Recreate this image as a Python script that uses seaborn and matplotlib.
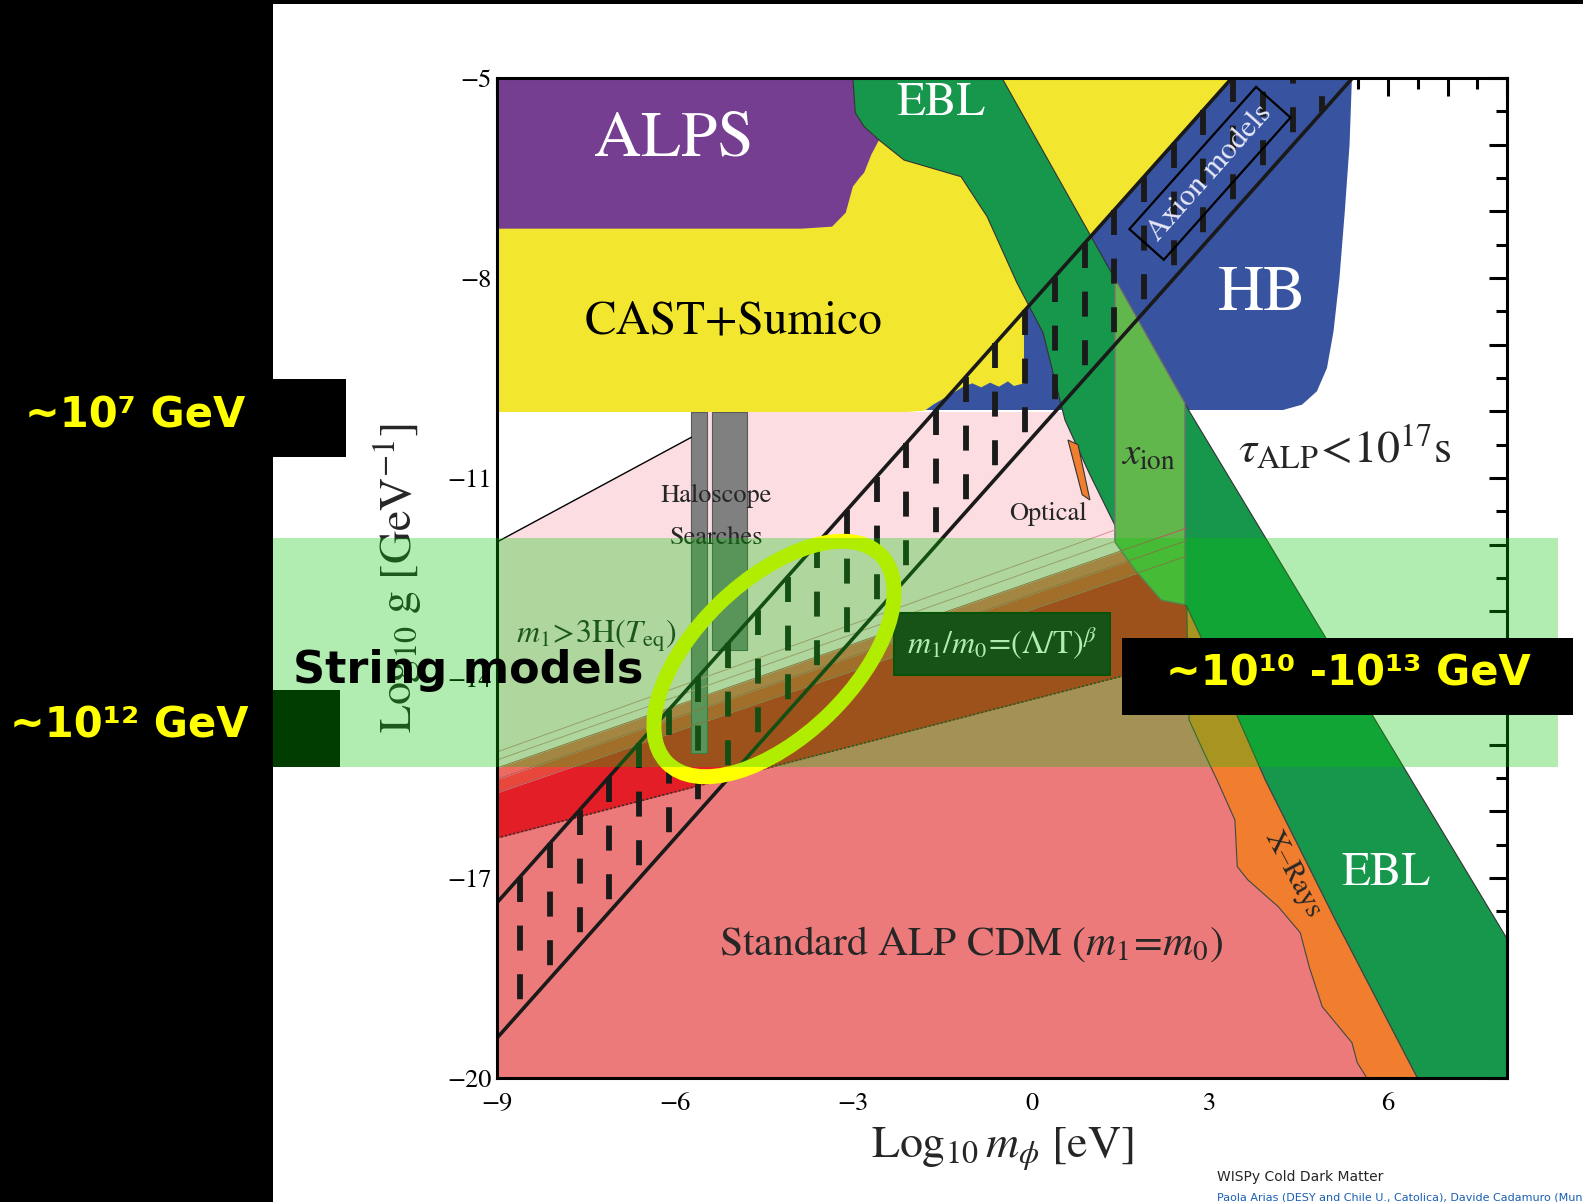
import numpy as np
import matplotlib
matplotlib.use("Agg")
import matplotlib.pyplot as plt
import seaborn as sns
from matplotlib.patches import Rectangle, Ellipse
from matplotlib.transforms import IdentityTransform
from matplotlib.ticker import MultipleLocator, FuncFormatter

sns.set_style('white')
plt.rcParams['font.family'] = ['STIXGeneral', 'DejaVu Serif']
plt.rcParams['mathtext.fontset'] = 'stix'
plt.rcParams['lines.scale_dashes'] = False

# ---- excluded / allowed regions, x = log10 m [eV], y = log10 g [GeV^-1]
alps_x = [-9, -3.01, -2.97, -2.82, -2.57, -2.70, -2.82, -2.90, -3.01, -3.13, -3.36, -3.88, -9]
alps_y = [-5, -5, -5.52, -5.73, -5.93, -6.15, -6.42, -6.50, -6.63, -7.02, -7.23, -7.26, -7.26]

cast_x = [-9, 3.37, -0.13, -0.13, -0.30, -0.40, -0.55, -0.70, -0.85, -1.00, -1.15, -1.37, -1.66, -1.80, -2.10, -9]
cast_y = [-5, -5, -8.50, -9.58, -9.62, -9.55, -9.63, -9.57, -9.64, -9.58, -9.63, -9.75, -9.90, -9.99, -10.01, -10.01]

hb_x = [-1.85, 4.23, 4.55, 4.80, 4.97, 5.08, 5.18, 5.27, 5.35, 5.39, -1.85]
hb_y = [-9.98, -9.98, -9.90, -9.70, -9.35, -8.80, -8.00, -7.00, -6.00, -5.00, -5.00]

ebl_x = [-3.01, -2.97, -2.82, -2.57, -2.15, -1.19, -0.75, -0.25, 0.19, 0.56, 0.98, 1.44, 1.99, 2.61,
         3.34, 3.93, 5.11, 6.49, 8.0, 8.0, 2.66, -0.50]
ebl_y = [-5.0, -5.52, -5.73, -5.93, -6.23, -6.48, -7.08, -8.07, -8.82, -10.13, -10.95, -11.78, -12.30, -12.93,
         -14.33, -15.53, -17.63, -20.0, -20.0, -17.91, -10.01, -5.0]

xion_x = [1.40, 2.58, 2.58, 2.18, 1.74, 1.40]
xion_y = [-8.01, -9.88, -12.90, -12.83, -12.38, -11.96]

xray_x = [2.61, 2.65, 2.90, 3.12, 3.42, 3.46, 3.64, 4.15, 4.52, 4.67, 4.89, 5.39, 5.48, 5.64,
          6.49, 5.11, 3.93, 3.34]
xray_y = [-12.93, -14.63, -15.12, -15.53, -16.13, -16.83, -17.03, -17.43, -17.82, -18.33, -18.93, -19.47, -19.77, -20.0,
          -20.0, -17.63, -15.53, -14.33]

optical_x = [0.61, 0.78, 0.98, 0.85]
optical_y = [-10.43, -10.50, -11.33, -11.25]

# straight boundaries, value at x = -9 and at x = 2.61
line_ends_x = [-9, 2.61]
alp_cdm_top = [-16.40, -13.72]     # standard ALP CDM upper edge (dotted)
beta_mid = [-15.72, -12.17]
beta_mid2 = [-15.52, -11.94]
beta_top = [-15.35, -11.75]
fan_ends_x = [-9, 1.40]
fan_lines = [[-15.23, -11.95], [-15.11, -11.78]]
teq_line_x = [-9, -5.73]
teq_line_y = [-11.96, -10.39]

# haloscope bars: x-left, x-right, bottom, top
halo_bars = [(-5.73, -5.46, -15.12, -10.01), (-5.38, -4.79, -13.58, -10.01)]

# axion band: y = x + offset
axion_offsets = [-8.37, -10.40]
axion_dash_x = np.arange(-8.61, 5.45, 0.5)  # dashed hatching inside the band

# colours
c_alps, c_cast, c_ebl, c_hb = '#763e91', '#f2e62e', '#16974b', '#3854a0'
c_xion, c_pink, c_salmon, c_red = '#62b74c', '#fbdde2', '#ec7a7a', '#e41e26'
c_orange = '#f07e2e'

W, H = 1583, 1202
fig = plt.figure(figsize=(W / 100, H / 100), dpi=100)
fig.patch.set_facecolor('white')
ax = fig.add_axes([497 / W, 1 - 1078 / H, 1010 / W, 1000 / H])
ax.set_xlim(-9, 8)
ax.set_ylim(-20, -5)

# salmon: standard ALP CDM
ax.fill([-9, 5.64] + xray_x[:14][::-1] + [2.61, -9],
        [-20, -20] + xray_y[:14][::-1] + [alp_cdm_top[1], alp_cdm_top[0]],
        color=c_salmon, lw=0)

# pink region above the beta fan
ax.fill([-9, teq_line_x[1], teq_line_x[1], 2.6, 2.6, -9],
        [teq_line_y[0], teq_line_y[1], -10.01, -10.01, beta_top[1], beta_top[0]],
        color=c_pink, lw=0)
ax.plot(teq_line_x, teq_line_y, color='black', lw=1.0)

# beta fan bands
ax.fill_between(line_ends_x, alp_cdm_top, beta_mid, color=c_red, lw=0)
ax.fill_between(line_ends_x, beta_mid, beta_mid2, color='#e8483c', lw=0)
ax.fill_between(line_ends_x, beta_mid2, beta_top, color='#ec6a60', lw=0)
for ln in [beta_mid, beta_mid2, beta_top]:
    ax.plot(line_ends_x, ln, color='#b85a5a', lw=0.7)
for ln in fan_lines:
    ax.plot(fan_ends_x, ln, color='#d89090', lw=0.7)
ax.plot(line_ends_x, alp_cdm_top, color='#303030', lw=1.2, ls=(0, (1.5, 1.5)))

# haloscope searches
for x0, x1, y0, y1 in halo_bars:
    ax.fill([x0, x1, x1, x0], [y0, y0, y1, y1], color='#808080', ec='#5a5a5a', lw=0.8)

# HB, CAST, ALPS
ax.fill(hb_x, hb_y, color=c_hb, lw=0)
ax.fill(cast_x, cast_y, color=c_cast, lw=0)
ax.fill(alps_x, alps_y, color=c_alps, lw=0)

# EBL, xion, x-rays, optical
ax.fill(ebl_x, ebl_y, color=c_ebl, ec='#333333', lw=0.8)
ax.fill(xion_x, xion_y, color=c_xion, ec='#707070', lw=1.0)
ax.fill(xray_x, xray_y, color=c_orange, ec='#444444', lw=0.8)
ax.fill(optical_x, optical_y, color=c_orange, ec='#333333', lw=0.8)

# axion band
xx = np.array([-9.0, 8.0])
for off in axion_offsets:
    ax.plot(xx, xx + off, color='#1a1a1a', lw=2.6)
for x in axion_dash_x:
    ax.plot([x, x], [x + axion_offsets[0], x + axion_offsets[1]], color='#1a1a1a',
            lw=4.2, ls=(0, (18, 17)), solid_capstyle='butt', dash_capstyle='butt')

# labels inside the plot
ax.text(-6.02, -5.93, 'ALPS', color='white', fontsize=47, ha='center', va='center')
ax.text(-1.53, -5.38, 'EBL', color='white', fontsize=34, ha='center', va='center')
ax.text(-5.01, -8.66, 'CAST+Sumico', color='black', fontsize=34, ha='center', va='center')
ax.text(3.88, -8.25, 'HB', color='white', fontsize=46, ha='center', va='center')
ax.text(3.0, -6.43, 'Axion models', color='#e8e8f8', fontsize=22, rotation=48.3,
        rotation_mode='anchor', ha='center', va='center',
        bbox=dict(boxstyle='square,pad=0.3', fc='none', ec='black', lw=1.6))
ax.text(1.97, -10.67, r'$x_{\rm ion}$', fontsize=28, ha='center', va='center')
ax.text(5.27, -10.55, r'$\tau_{\rm ALP}\!<\!10^{17}{\rm s}$', fontsize=33, ha='center', va='center')
ax.text(-5.31, -11.27, 'Haloscope', fontsize=19, ha='center', va='center')
ax.text(-5.31, -11.90, 'Searches', fontsize=19, ha='center', va='center')
ax.text(0.27, -11.54, 'Optical', fontsize=19, ha='center', va='center')
ax.text(-7.33, -13.37, r'$m_1\!>\!3{\rm H}(T_{\rm eq})$', fontsize=23, ha='center', va='center')
ax.text(-0.50, -13.49, r'$m_1/m_0\!=\!(\Lambda/{\rm T})^\beta$', color='white', fontsize=23,
        ha='center', va='center',
        bbox=dict(boxstyle='square,pad=0.4', fc='#202020', ec='#0a200a', lw=1.5))
ax.text(-1.02, -17.99, r'Standard ALP CDM $(m_1\!=\!m_0)$', fontsize=30, ha='center', va='center')
ax.text(5.96, -16.94, 'EBL', color='white', fontsize=34, ha='center', va='center')
ax.text(4.40, -16.95, 'X–Rays', fontsize=21, rotation=-62, rotation_mode='anchor',
        ha='center', va='center')

# axes, ticks
for s in ax.spines.values():
    s.set_linewidth(2.2)
    s.set_color('black')
ax.xaxis.set_major_locator(MultipleLocator(1))
ax.xaxis.set_minor_locator(MultipleLocator(0.5))
ax.yaxis.set_major_locator(MultipleLocator(1))
ax.yaxis.set_minor_locator(MultipleLocator(0.5))
ax.xaxis.set_major_formatter(FuncFormatter(lambda v, p: f'{int(round(v))}'.replace('-', '−') if round(v) % 3 == 0 else ''))
ax.yaxis.set_major_formatter(FuncFormatter(lambda v, p: f'{int(round(v))}'.replace('-', '−') if round(v) % 3 == 1 else ''))
ax.tick_params(which='both', direction='in', top=True, right=True, width=2.2, colors='black')
ax.tick_params(which='major', length=13)
ax.tick_params(which='minor', length=8)
ax.tick_params(axis='x', labelsize=19, pad=10)
ax.tick_params(axis='y', labelsize=19, pad=4)
ax.set_xlabel(r'${\rm Log}_{10}\,m_\phi\ [{\rm eV}]$', fontsize=33)
ax.set_ylabel(r'${\rm Log}_{10}\ {\rm g}\ [{\rm GeV}^{-1}]$', fontsize=33)
ax.xaxis.set_label_coords(0.5, -0.047)
ax.yaxis.set_label_coords(-0.072, 0.5)


# ---- slide decorations (pixel boxes)
def box(x0, y0, x1, y1, color, z, alpha=1.0):
    fig.add_artist(Rectangle((x0 / W, 1 - y1 / H), (x1 - x0) / W, (y1 - y0) / H,
                             transform=fig.transFigure, color=color, lw=0, alpha=alpha, zorder=z))


box(0, 0, 273, H, 'black', 2)
box(0, 0, W, 4, 'black', 2)
box(0, 379, 346, 457, 'black', 2)
box(0, 690, 340, 767, 'black', 2)
fig.add_artist(Ellipse((774, H - 659), 298, 156, angle=44, transform=IdentityTransform(),
                       fc='none', ec='#ffff00', lw=10.8, zorder=3))
box(273, 538, 1558, 767, (0.02, 0.78, 0.02), 6, alpha=0.31)
box(1122, 638, 1573, 715, 'black', 7)

gev_font = dict(family='DejaVu Sans', weight='bold', color='#ffff00', fontsize=30,
                ha='center', va='center', zorder=8)
fig.text(135 / W, 1 - 416 / H, '~10⁷ GeV', **gev_font)
fig.text(129 / W, 1 - 725 / H, '~10¹² GeV', **gev_font)
fig.text(1348 / W, 1 - 674 / H, '~10¹⁰ -10¹³ GeV', **gev_font)
fig.text(468 / W, 1 - 671 / H, 'String models', family='DejaVu Sans', weight='bold',
         color='black', fontsize=32, ha='center', va='center', zorder=8)

fig.text(1217 / W, 1 - 1177 / H, 'WISPy Cold Dark Matter', family='DejaVu Sans',
         fontsize=10, ha='left', va='center', zorder=8)
fig.text(1217 / W, 1 - 1197 / H, 'Paola Arias (DESY and Chile U., Catolica), Davide Cadamuro (Munich, Max',
         family='DejaVu Sans', fontsize=8, color='#1a5fb4', ha='left', va='center', zorder=8)

fig.savefig('out.png', dpi=100)
